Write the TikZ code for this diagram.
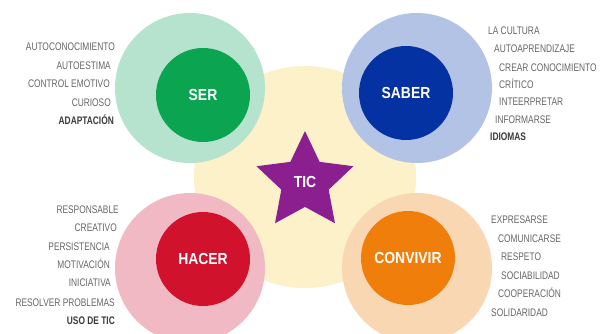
\documentclass[tikz,border=0pt]{standalone}
\usepackage{fontspec}
\setmainfont{Liberation Sans}
\newfontfamily\listfont{Liberation Sans}[FakeStretch=0.76]
\newfontfamily\labelfont{Liberation Sans}[FakeStretch=0.87]
\usetikzlibrary{shapes.geometric}
\definecolor{serlight}{HTML}{B5E3CD}
\definecolor{serdark}{HTML}{0BA552}
\definecolor{saberlight}{HTML}{B3C3E6}
\definecolor{saberdark}{HTML}{0532A3}
\definecolor{hacerlight}{HTML}{F1B9C4}
\definecolor{hacerdark}{HTML}{D0122C}
\definecolor{convlight}{HTML}{FAD7B3}
\definecolor{convdark}{HTML}{F07E0B}
\definecolor{ticyellow}{HTML}{FDF1C9}
\definecolor{ticpurple}{HTML}{8C1F8F}
\definecolor{itemgray}{HTML}{666666}
\definecolor{keygray}{HTML}{3A3A3A}

\begin{document}
\begin{tikzpicture}[x=1pt, y=-1pt,
    outer/.style={circle,inner sep=0pt,minimum size=150pt},
    core/.style={circle,inner sep=0pt,minimum size=94pt,text=white,
      font=\labelfont\bfseries\fontsize{16}{16}\selectfont},
    item/.style={inner sep=0pt,text height=8pt,text depth=0pt,text=itemgray,
      font=\listfont\fontsize{11}{12}\selectfont},
    key/.style={item,text=keygray,font=\listfont\bfseries\fontsize{11}{12}\selectfont}]
  \clip (0,0) rectangle (611,334);
  \fill[white] (0,0) rectangle (611,334);
  % centre
  \node[circle,fill=ticyellow,minimum size=222pt] (base) at (305,177) {};
  % outer rings
  \node[outer,fill=serlight] (ser-out) at (190,88) {};
  \node[outer,fill=saberlight] (saber-out) at (417,88) {};
  \node[outer,fill=hacerlight] (hacer-out) at (190,268) {};
  \node[outer,fill=convlight] (conv-out) at (417,268) {};
  % cores
  \node[core,fill=serdark] (ser) at (203,95) {SER};
  \node[core,fill=saberdark] (saber) at (406,93) {SABER};
  \node[core,fill=hacerdark] (hacer) at (203,259) {HACER};
  \node[core,fill=convdark] (conv) at (408,258) {CONVIVIR};
  \node[star,star points=5,star point ratio=2.05,minimum size=102pt,inner sep=0pt,
    fill=ticpurple,text=white,font=\labelfont\bfseries\fontsize{16}{16}\selectfont]
    (tic) at (305,182) {TIC};
  % ser
  \node[item,anchor=east] (s1) at (115,47) {AUTOCONOCIMIENTO};
  \node[item,anchor=east] (s2) at (111,66) {AUTOESTIMA};
  \node[item,anchor=east] (s3) at (110,84) {CONTROL EMOTIVO};
  \node[item,anchor=east] (s4) at (111,103) {CURIOSO};
  \node[key,anchor=east] (s5) at (114,121) {ADAPTACIÓN};
  % saber
  \node[item,anchor=west] (b1) at (488,31) {LA CULTURA};
  \node[item,anchor=west] (b2) at (494,49) {AUTOAPRENDIZAJE};
  \node[item,anchor=west] (b3) at (499,68) {CREAR CONOCIMIENTO};
  \node[item,anchor=west] (b4) at (499,85) {CRÍTICO};
  \node[item,anchor=west] (b5) at (499,102) {INTEERPRETAR};
  \node[item,anchor=west] (b6) at (495,120) {INFORMARSE};
  \node[key,anchor=west] (b7) at (490,137) {IDIOMAS};
  % hacer
  \node[item,anchor=east] (h1) at (119,210) {RESPONSABLE};
  \node[item,anchor=east] (h2) at (117,228) {CREATIVO};
  \node[item,anchor=east] (h3) at (110,247) {PERSISTENCIA};
  \node[item,anchor=east] (h4) at (110,265) {MOTIVACIÓN};
  \node[item,anchor=east] (h5) at (111,283) {INICIATIVA};
  \node[item,anchor=east] (h6) at (115,302) {RESOLVER PROBLEMAS};
  \node[key,anchor=east] (h7) at (115,320) {USO DE TIC};
  % convivir
  \node[item,anchor=west] (c1) at (491,219) {EXPRESARSE};
  \node[item,anchor=west] (c2) at (498,238) {COMUNICARSE};
  \node[item,anchor=west] (c3) at (501,257) {RESPETO};
  \node[item,anchor=west] (c4) at (501,275) {SOCIABILIDAD};
  \node[item,anchor=west] (c5) at (498,293) {COOPERACIÓN};
  \node[item,anchor=west] (c6) at (491,312) {SOLIDARIDAD};
\end{tikzpicture}
\end{document}
